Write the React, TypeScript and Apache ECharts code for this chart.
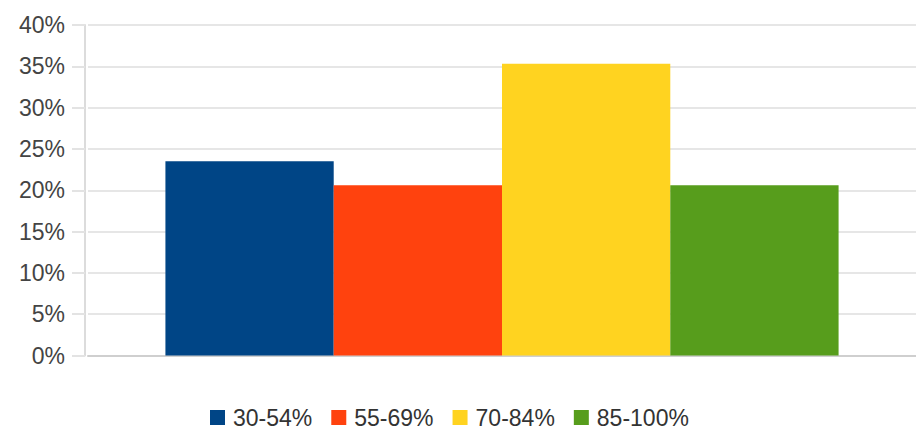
import React, { useEffect, useRef } from "react";
import * as echarts from "echarts";

const categories = [""];
const seriesNames = ["30-54%", "55-69%", "70-84%", "85-100%"];
const seriesValues = [23.5, 20.6, 35.3, 20.6];
const seriesColors = ["#004586", "#ff420e", "#ffd320", "#579d1c"];
const yTicks = { min: 0, max: 40, interval: 5 };

export default function App() {
  const ref = useRef<HTMLDivElement>(null);
  useEffect(() => {
    if (!ref.current) return;
    const chart = echarts.init(ref.current, undefined, { renderer: "svg" });
    const font = "'Liberation Sans', Arial, sans-serif";
    chart.setOption({
      animation: false,
      backgroundColor: "#ffffff",
      grid: { left: 88, right: 0, top: 25, bottom: 74.5, containLabel: false },
      legend: {
        left: 210,
        top: 406,
        padding: 0,
        icon: "rect",
        itemWidth: 15,
        itemHeight: 15,
        itemGap: 19,
        textStyle: { fontSize: 23, lineHeight: 22, color: "#333333", fontFamily: font, padding: [0, 0, 0, 3] },
        data: seriesNames,
      },
      xAxis: {
        type: "category",
        data: categories,
        axisLine: { show: true, lineStyle: { color: "#cfcfcf", width: 2 } },
        axisTick: { show: false },
        axisLabel: { show: false },
        splitLine: { show: false },
      },
      yAxis: {
        type: "value",
        min: yTicks.min,
        max: yTicks.max,
        interval: yTicks.interval,
        offset: 3,
        axisLine: { show: true, lineStyle: { color: "#dcdcdc", width: 2 } },
        axisTick: { show: true, inside: false, length: 13, lineStyle: { color: "#e3e3e3", width: 2 } },
        axisLabel: {
          formatter: "{value}%",
          fontSize: 23,
          color: "#444444",
          fontFamily: font,
          margin: 20,
        },
        splitLine: { show: true, lineStyle: { color: "#e6e6e6", width: 2 } },
      },
      series: seriesNames.map((name, i) => ({
        name,
        type: "bar",
        data: [seriesValues[i]],
        itemStyle: { color: seriesColors[i] },
        barGap: "0%",
        barCategoryGap: "18.7%",
      })),
    });
    return () => chart.dispose();
  }, []);
  return (
    <div
      ref={ref}
      style={{ position: "fixed", left: 0, top: 0, width: 916, height: 430 }}
    />
  );
}
